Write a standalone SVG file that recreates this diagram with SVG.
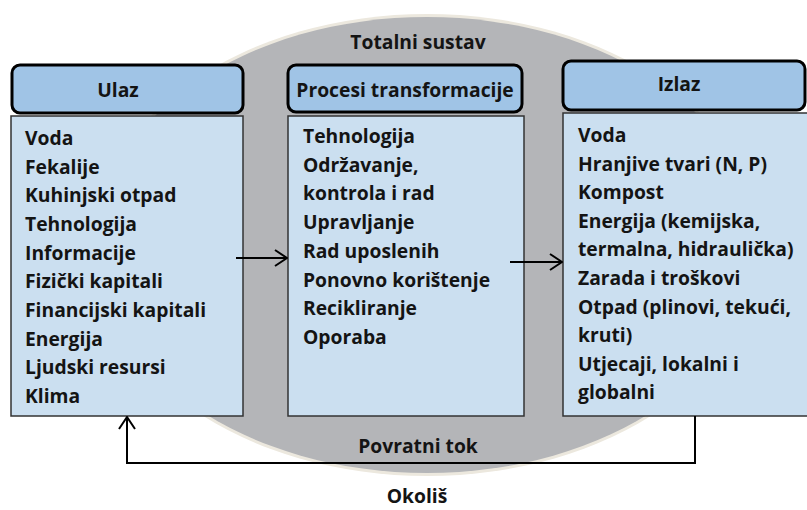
<svg xmlns="http://www.w3.org/2000/svg" width="807" height="510" viewBox="0 0 807 510">
<defs>
<style>
.hdr{fill:#a0c4e6;stroke:#000;stroke-width:3}
.body{fill:#cbdff0;stroke:#333;stroke-width:1.5}
text{font-family:"Open Sans",Lato,"Liberation Sans",sans-serif;font-weight:bold;fill:#141414}
.t{font-size:19.3px}
.h{font-size:19.3px;text-anchor:middle}
.conn{fill:none;stroke:#000;stroke-width:2}
</style>
<marker id="arr" viewBox="0 0 14 18" refX="13" refY="9" markerWidth="14" markerHeight="18" markerUnits="userSpaceOnUse" orient="auto">
<path d="M1,1 L13,9 L1,17" fill="none" stroke="#000" stroke-width="2"/>
</marker>
</defs>
<rect width="807" height="510" fill="#fff"/>
<g id="totalni-sustav">
<ellipse cx="427" cy="245" rx="333" ry="231" fill="#ece8de"/>
<ellipse cx="427" cy="245" rx="330" ry="228" fill="#b4b5b8"/>
<text class="h" x="418" y="49">Totalni sustav</text>
</g>
<g id="ulaz">
<rect class="hdr" x="12" y="65" width="231" height="48" rx="8"/>
<text class="h" x="118" y="97">Ulaz</text>
<rect class="body" x="11" y="116" width="232" height="300"/>
<text class="t" x="25" y="145">Voda</text>
<text class="t" x="25" y="173.6">Fekalije</text>
<text class="t" x="25" y="202.3">Kuhinjski otpad</text>
<text class="t" x="25" y="231">Tehnologija</text>
<text class="t" x="25" y="259.6">Informacije</text>
<text class="t" x="25" y="288.3">Fizički kapitali</text>
<text class="t" x="25" y="317">Financijski kapitali</text>
<text class="t" x="25" y="345.6">Energija</text>
<text class="t" x="25" y="374.3">Ljudski resursi</text>
<text class="t" x="25" y="403">Klima</text>
</g>
<g id="procesi">
<rect class="hdr" x="288" y="65" width="234" height="47" rx="8"/>
<text class="h" x="405" y="97">Procesi transformacije</text>
<rect class="body" x="288" y="116" width="236" height="300"/>
<text class="t" x="303" y="143">Tehnologija</text>
<text class="t" x="303" y="171.7">Održavanje,</text>
<text class="t" x="303" y="200.4">kontrola i  rad</text>
<text class="t" x="303" y="229.1">Upravljanje</text>
<text class="t" x="303" y="257.8">Rad uposlenih</text>
<text class="t" x="303" y="286.5">Ponovno korištenje</text>
<text class="t" x="303" y="315.2">Recikliranje</text>
<text class="t" x="303" y="344">Oporaba</text>
</g>
<g id="izlaz">
<rect class="hdr" x="563" y="61" width="242" height="49" rx="8"/>
<text class="h" x="679" y="91">Izlaz</text>
<rect class="body" x="563" y="113" width="245" height="303"/>
<text class="t" x="578" y="142">Voda</text>
<text class="t" x="578" y="170.6">Hranjive tvari (N, P)</text>
<text class="t" x="578" y="199.2">Kompost</text>
<text class="t" x="578" y="227.8">Energija (kemijska,</text>
<text class="t" x="578" y="256.4">termalna, hidraulička)</text>
<text class="t" x="578" y="285">Zarada i troškovi</text>
<text class="t" x="578" y="313.6">Otpad (plinovi, tekući,</text>
<text class="t" x="578" y="342.2">kruti)</text>
<text class="t" x="578" y="370.8">Utjecaji, lokalni i</text>
<text class="t" x="578" y="399.4">globalni</text>
</g>
<g id="connectors">
<line class="conn" x1="236" y1="258" x2="287" y2="258" marker-end="url(#arr)"/>
<line class="conn" x1="510" y1="262" x2="562" y2="262" marker-end="url(#arr)"/>
<polyline class="conn" points="695,416 695,463 127,463 127,417" marker-end="url(#arr)"/>
</g>
<g id="labels">
<text class="h" x="418" y="453">Povratni tok</text>
<text class="h" x="417" y="503">Okoliš</text>
</g>
</svg>
